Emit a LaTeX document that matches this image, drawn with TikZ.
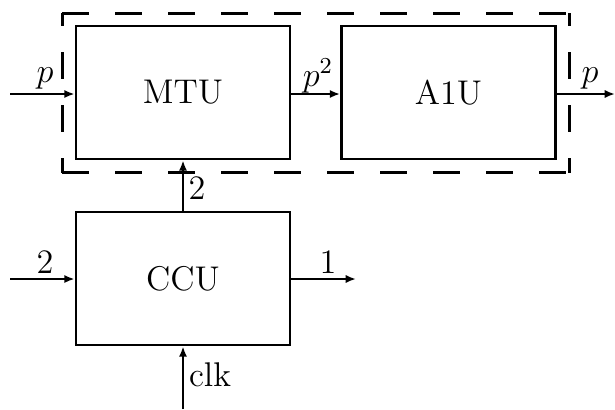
\documentclass[tikz,border=0pt]{standalone}
\usetikzlibrary{arrows.meta}
\begin{document}
\begin{tikzpicture}[x=0.35pt,y=-0.35pt,
  box/.style={draw,line width=1pt,minimum width=74.9pt,minimum height=46.55pt,inner sep=0pt,font=\large},
  grp/.style={minimum width=177.1pt,minimum height=55.3pt,inner sep=0pt},
  grph/.style={line width=1pt,dash pattern=on 9.45pt off 9.1pt,dash phase=0pt},
  grpv/.style={line width=1pt,dash pattern=on 9.45pt off 9.1pt,dash phase=4.9pt},
  conn/.style={line width=1pt,-{Latex[length=3.6pt,width=2.9pt]}},
  lbl/.style={inner sep=0pt,font=\large}]
\useasboundingbox (0,0) rectangle (615,409);
\node[box] (MTU) at (183,92.5) {MTU};
\node[box] (A1U) at (448.5,92.5) {A1U};
\node[box] (CCU) at (183,278.5) {CCU};
\node[grp] (G) at (316,93) {};
\draw[grph] (G.north west) -- (G.north east);
\draw[grph] (G.south west) -- (G.south east);
\draw[grpv] (G.north west) -- (G.south west);
\draw[grpv] (G.north east) -- (G.south east);
\coordinate (pin) at (10,94);
\coordinate (pout) at (615,94);
\coordinate (cin) at (10,279);
\coordinate (cout) at (356,279);
\coordinate (clk) at (183,409);
\draw[conn] (pin) -- (pin -| MTU.west);
\draw[conn] (MTU.east |- pin) -- (A1U.west |- pin);
\draw[conn] (A1U.east |- pin) -- (pout);
\draw[conn] (CCU.north) -- (MTU.south);
\draw[conn] (cin) -- (cin -| CCU.west);
\draw[conn] (CCU.east |- cout) -- (cout);
\draw[conn] (clk) -- (CCU.south);
\node[lbl] (lp) at (45,78) {$p$};
\node[lbl] (lp2) at (318,76) {$p^2$};
\node[lbl] (lpo) at (590,78) {$p$};
\node[lbl] (l2a) at (197,188) {2};
\node[lbl] (l2b) at (45,262) {2};
\node[lbl] (l1) at (328,262) {1};
\node[lbl] (lclk) at (210,375) {clk};
\end{tikzpicture}
\end{document}
